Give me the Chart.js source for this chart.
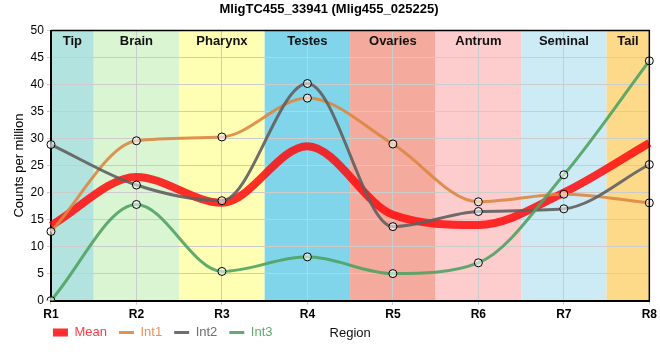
<!DOCTYPE html>
<html>
<head>
<meta charset="utf-8">
<script src="https://cdn.jsdelivr.net/npm/chart.js@4/dist/chart.umd.min.js"></script>
<style>
  html, body { margin: 0; padding: 0; background: #fff; }
  #wrap { width: 660px; height: 360px; }
</style>
</head>
<body>
<div id="wrap"><canvas id="myChart"></canvas></div>
<script>
const regions = ['R1', 'R2', 'R3', 'R4', 'R5', 'R6', 'R7', 'R8'];
const mean = [13.9, 22.9, 18.1, 28.6, 15.9, 14.0, 20.0, 29.2];
const int1 = [12.8, 29.6, 30.3, 37.5, 29.0, 18.3, 19.7, 18.1];
const int2 = [28.9, 21.4, 18.5, 40.2, 13.7, 16.5, 17.0, 25.2];
const int3 = [0, 17.8, 5.4, 8.1, 5.0, 7.0, 23.3, 44.4];

const bandNames = ['Tip', 'Brain', 'Pharynx', 'Testes', 'Ovaries', 'Antrum', 'Seminal', 'Tail'];
const bandColors = ['#b3e3de', '#d9f5d1', '#ffffb3', '#80d5eb', '#f4aa9c', '#fdcccc', '#cdebf4', '#fdd98a'];
const legendColors = ['#ff3b47', '#e8925a', '#707070', '#62a86e'];

// legend sits on the same row as the "Region" title
const legendShiftX = 10;
const legendShiftY = 11;

const bandsPlugin = {
  id: 'bands',
  afterLayout(chart) {
    const lg = chart.legend;
    lg.top -= legendShiftY;
    lg.bottom -= legendShiftY;
    lg.left -= legendShiftX;
    lg.right -= legendShiftX;
  },
  beforeDraw(chart) {
    const {ctx, chartArea: a, scales: {x}} = chart;
    ctx.save();
    bandNames.forEach((name, i) => {
      const l = Math.max(a.left, x.getPixelForValue(i - 0.5));
      const r = Math.min(a.right, x.getPixelForValue(i + 0.5));
      ctx.fillStyle = bandColors[i];
      ctx.fillRect(l, a.top, r - l, a.bottom - a.top);
    });
    ctx.restore();
  },
  afterDatasetsDraw(chart) {
    const {ctx, chartArea: a, scales: {x}} = chart;
    ctx.save();
    ctx.font = 'bold 13px Arial';
    ctx.fillStyle = '#111';
    ctx.textAlign = 'center';
    ctx.textBaseline = 'middle';
    bandNames.forEach((name, i) => {
      const l = Math.max(a.left, x.getPixelForValue(i - 0.5));
      const r = Math.min(a.right, x.getPixelForValue(i + 0.5));
      ctx.fillText(name, (l + r) / 2, a.top + 11);
    });
    ctx.restore();
  },
  afterDraw(chart) {
    const {ctx, chartArea: a, legend} = chart;
    ctx.save();
    ctx.strokeStyle = '#000';
    ctx.lineWidth = 1.5;
    ctx.beginPath();
    ctx.moveTo(a.left, a.top);
    ctx.lineTo(a.right, a.top);
    ctx.lineTo(a.right, a.bottom);
    ctx.stroke();
    ctx.font = '13px Arial';
    ctx.fillStyle = '#111';
    ctx.textAlign = 'center';
    ctx.textBaseline = 'middle';
    const hb = legend.legendHitBoxes[0];
    ctx.fillText('Region', (a.left + a.right) / 2, hb.top + hb.height / 2 + 1);
    ctx.restore();
  }
};

const lineDs = (label, data, color, width, order) => ({
  label: label,
  data: data,
  borderColor: color,
  backgroundColor: color,
  borderWidth: width,
  cubicInterpolationMode: 'monotone',
  pointRadius: label === 'Mean' ? 0 : 4,
  pointBackgroundColor: 'rgba(255,255,255,0.55)',
  pointBorderColor: '#000',
  pointBorderWidth: 1,
  order: order
});

const config = {
  type: 'line',
  data: {
    labels: regions,
    datasets: [
      lineDs('Mean', mean, 'rgba(255,10,10,0.85)', 8, 4),
      lineDs('Int1', int1, 'rgba(220,135,65,0.9)', 3, 3),
      lineDs('Int2', int2, 'rgba(95,95,95,0.9)', 3, 2),
      lineDs('Int3', int3, 'rgba(80,162,100,0.9)', 3, 1)
    ]
  },
  plugins: [bandsPlugin],
  options: {
    responsive: true,
    maintainAspectRatio: false,
    animation: false,
    layout: { padding: { left: 7, right: 9, bottom: 0 } },
    plugins: {
      title: {
        display: true,
        text: 'MligTC455_33941 (Mlig455_025225)',
        color: '#000',
        font: { family: 'Arial', size: 13, weight: 'bold' },
        padding: { top: 2, bottom: 13 }
      },
      legend: {
        position: 'bottom',
        align: 'start',
        fullSize: false,
        labels: {
          usePointStyle: true,
          pointStyleWidth: 15,
          padding: 12,
          font: { family: 'Arial', size: 13 },
          generateLabels(chart) {
            return chart.data.datasets.map((ds, i) => ({
              text: ds.label,
              fillStyle: ds.borderColor,
              strokeStyle: ds.borderColor,
              lineWidth: ds.borderWidth,
              pointStyle: 'line',
              fontColor: legendColors[i],
              datasetIndex: i,
              hidden: false
            }));
          }
        }
      },
      tooltip: { enabled: false }
    },
    scales: {
      x: {
        offset: false,
        grid: { color: '#cccccc', lineWidth: 1, tickLength: 4 },
        border: { color: '#000', width: 2 },
        ticks: { color: '#000', font: { family: 'Arial', size: 12, weight: 'bold' }, padding: 3 },
        title: { display: false }
      },
      y: {
        min: 0,
        max: 50,
        grid: { color: '#cccccc', lineWidth: 1, tickLength: 4 },
        border: { color: '#000', width: 2 },
        ticks: { stepSize: 5, color: '#000', font: { family: 'Arial', size: 12 }, padding: 3 },
        title: {
          display: true,
          text: 'Counts per million',
          color: '#000',
          font: { family: 'Arial', size: 13 },
          padding: { top: 5, bottom: 0 }
        }
      }
    }
  }
};

const myChart = new Chart(document.getElementById('myChart'), config);
</script>
</body>
</html>
